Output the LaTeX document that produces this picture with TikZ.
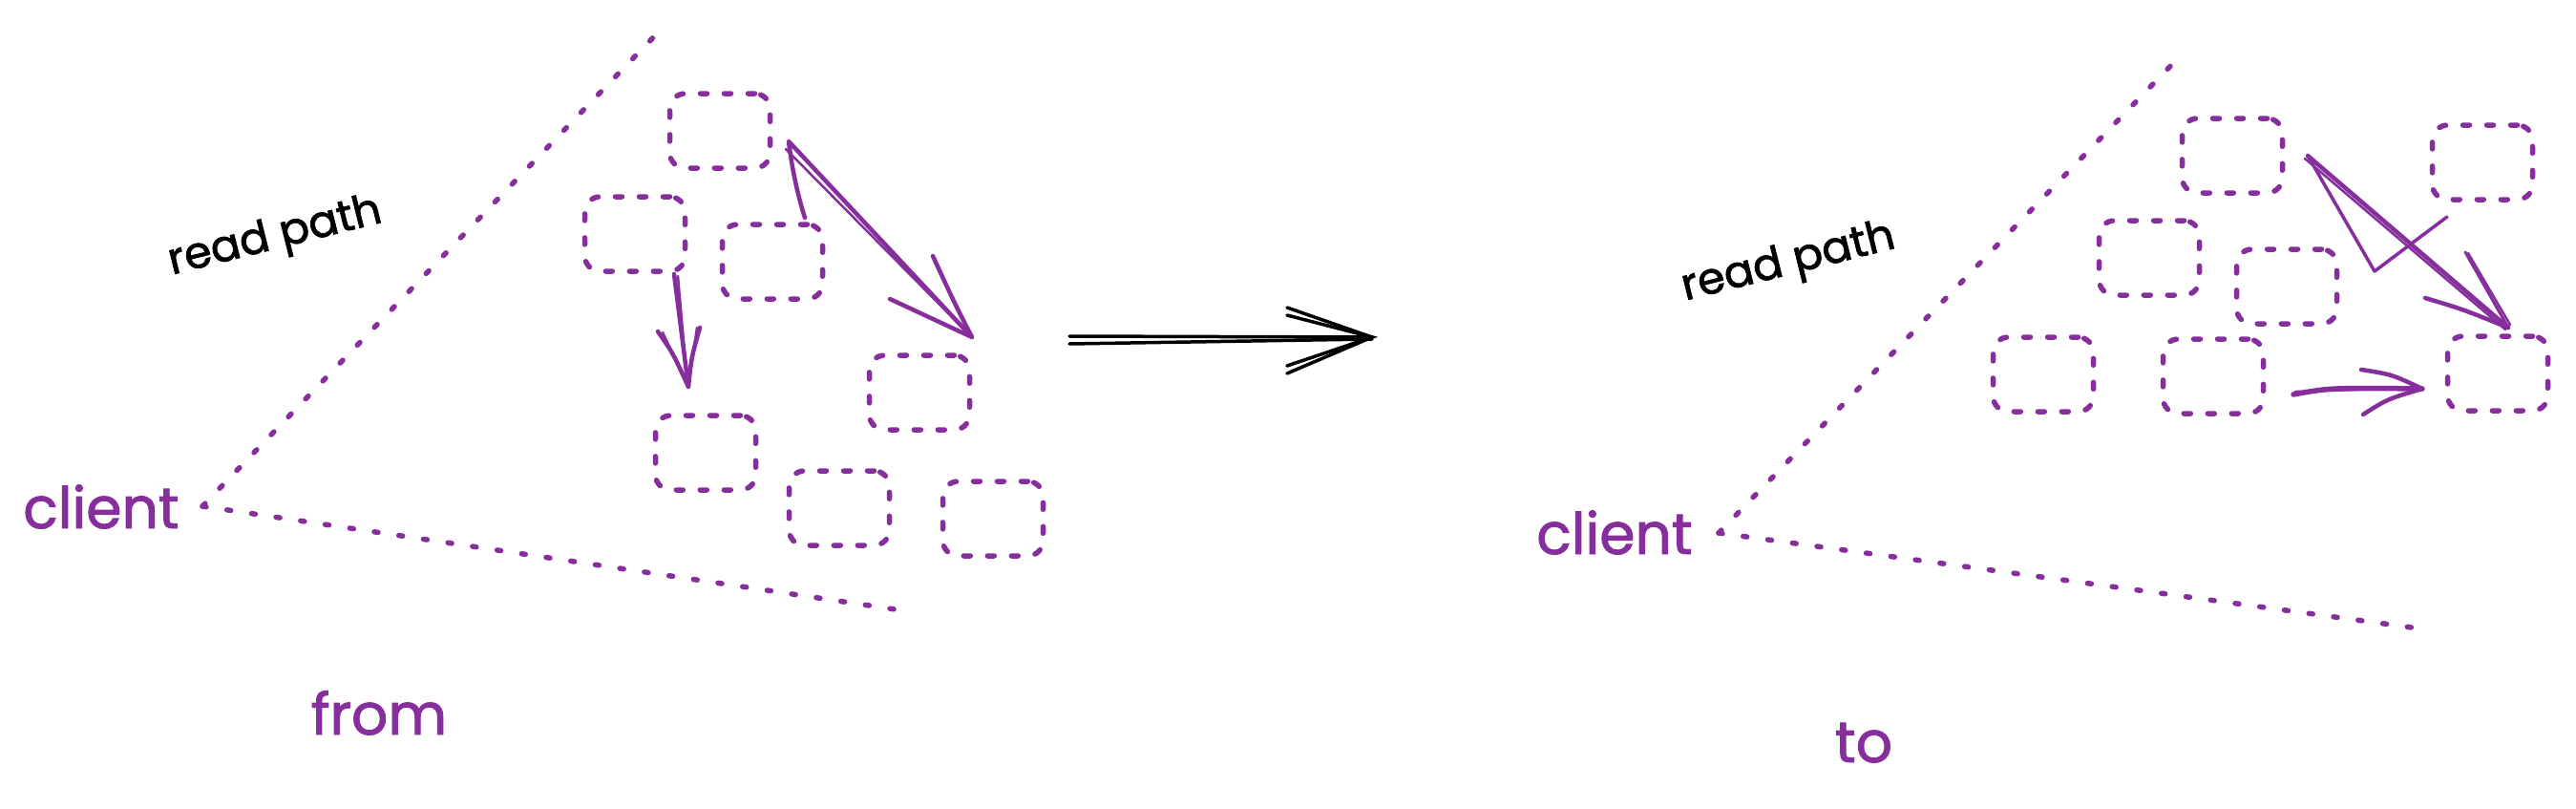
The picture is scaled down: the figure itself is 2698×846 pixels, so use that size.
\documentclass[tikz,border=0pt]{standalone}
\usepackage{fontspec}
\setmainfont{Poppins}
\newfontfamily\handfont{Poppins}[FakeBold=1.6]
\usetikzlibrary{calc}
\definecolor{exviolet}{RGB}{134,46,156}
\begin{document}
\begin{tikzpicture}[x=1pt,y=-1pt,
  sbox/.style={draw=exviolet, line width=5.5pt, line cap=round, dash pattern=on 7pt off 18pt, rounded corners=16pt, minimum width=105pt, minimum height=78pt, inner sep=0pt},
  dotline/.style={draw=exviolet, line width=5.5pt, line cap=round, dash pattern=on 4pt off 22pt},
  parrow/.style={draw=exviolet, line width=4.5pt, line cap=round, line join=round},
  pthin/.style={draw=exviolet, line width=2.5pt, line cap=round, line join=round},
  barrow/.style={draw=black, line width=3.5pt, line cap=round},
  ptext/.style={text=exviolet, font=\handfont\fontsize{60}{60}\selectfont, inner sep=0pt, anchor=base},
  btext/.style={text=black, font=\handfont\fontsize{46}{46}\selectfont, inner sep=0pt, anchor=base, rotate=14}]
\fill[white] (0,0) rectangle (2698,846);
\useasboundingbox (0,0) rectangle (2698,846);

% ---------- left: from ----------
\node[ptext] (client1) at (106,553) {client};
\node[btext] (rp1) at (291,260) {read path};
\node[ptext] (from) at (397,769) {from};
\coordinate (v1) at (212,530);
\coordinate (t1) at (692,31);
\coordinate (b1) at (951,640);
\draw[dotline] (v1) -- (t1);
\draw[dotline] (v1) -- (b1);

\node[sbox] (A) at (754,137) {};
\node[sbox] (B) at (665,245) {};
\node[sbox] (C) at (809,274) {};
\node[sbox] (D) at (963,411) {};
\node[sbox] (E) at (739,474) {};
\node[sbox] (F) at (879,532) {};
\node[sbox] (G) at (1040,543) {};

% arrow B -> E
\coordinate (a1s) at (706,287);
\coordinate (a1t) at (721,405);
\draw[parrow] (a1s) -- (a1t);
\draw[pthin] (710,289) -- (719,392);
\draw[parrow] (689,347) .. controls (705,370) .. (a1t) .. controls (724,375) .. (733,343);
\draw[pthin] (694,348) -- (a1t) -- (730,343);

% arrow A -> D
\coordinate (a2c) at (843,228);
\coordinate (a2s) at (826,148);
\coordinate (a2t) at (1018,353);
\draw[parrow] (a2c) .. controls (834,200) and (829,172) .. (a2s) -- (a2t);
\draw[pthin] (823,156) -- (1015,350);
\draw[parrow] (932,313) -- (a2t) .. controls (1000,318) .. (977,268);

% ---------- middle black arrow ----------
\coordinate (m1) at (1120,352);
\coordinate (m2) at (1437,353);
\draw[barrow] (m1) -- (m2);
\draw[barrow] (1120,360) -- (1437,355);
\draw[barrow] (1348,322) -- (m2) -- (1348,391);
\draw[barrow] (1348,330) -- (m2) -- (1348,383);

% ---------- right: to ----------
\node[ptext] (client2) at (1691,580) {client};
\node[btext] (rp2) at (1876,287) {read path};
\node[ptext] (to) at (1952,798) {to};
\coordinate (v2) at (1800,558);
\coordinate (t2) at (2285,57);
\coordinate (b2) at (2541,659);
\draw[dotline] (v2) -- (t2);
\draw[dotline] (v2) -- (b2);

\node[sbox] (R1) at (2338,163) {};
\node[sbox] (R2) at (2600,170) {};
\node[sbox] (R3) at (2251,270) {};
\node[sbox] (R4) at (2395,300) {};
\node[sbox] (R5) at (2140,392) {};
\node[sbox] (R6) at (2318,394) {};
\node[sbox] (R7) at (2616,391) {};

% arrow R1 -> R7 (with scribble)
\coordinate (r1s) at (2417,163);
\coordinate (r1t) at (2627,343);
\coordinate (zz1) at (2487,284);
\coordinate (zz2) at (2563,227);
\draw[parrow] (r1s) -- (r1t);
\draw[pthin] (2414,166) -- (2624,345);
\draw[parrow, line width=3.5pt] (r1s) -- (zz1) -- (zz2);
\draw[parrow] (2540,312) .. controls (2580,324) .. (r1t);
\draw[parrow, line width=3pt] (2582,264) -- (r1t);
\draw[pthin] (2585,265) -- (2629,340);

% arrow R6 -> R7
\coordinate (r2s) at (2402,413);
\coordinate (r2t) at (2537,407);
\draw[parrow, line width=5.5pt] (r2s) .. controls (2440,406) .. (r2t);
\draw[pthin] (2404,410) -- (2535,406);
\draw[parrow] (2473,387) .. controls (2505,392) .. (r2t) .. controls (2500,418) .. (2475,434);
\end{tikzpicture}
\end{document}
